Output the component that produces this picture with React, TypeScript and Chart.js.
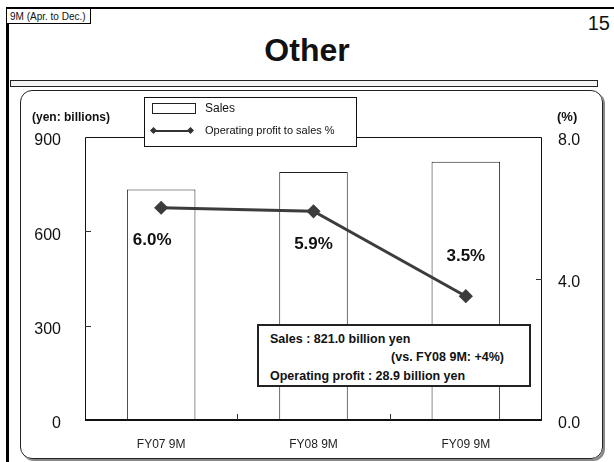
import React, { useEffect, useRef } from "react";
import { Chart, registerables } from "chart.js";

Chart.register(...registerables);

const categories = ["FY07 9M", "FY08 9M", "FY09 9M"];
const salesValues = [733, 789, 821];
const marginValues = [6.0, 5.9, 3.5];
const marginLabelSide = ["below", "below", "above"];
const leftAxisMax = 900;
const leftAxisStep = 300;
const rightAxisMax = 8;
const rightAxisStep = 4;

const FONT = "'Liberation Sans', Arial, sans-serif";

const framePlugin = {
  id: "framePlugin",
  afterDatasetsDraw(chart: any) {
    const { ctx, chartArea } = chart;
    const { left, right, top, bottom } = chartArea;
    ctx.save();
    ctx.strokeStyle = "#111";
    ctx.lineWidth = 1;
    ctx.beginPath();
    ctx.moveTo(left + 0.5, bottom);
    ctx.lineTo(left + 0.5, top + 0.5);
    ctx.lineTo(right - 0.5, top + 0.5);
    ctx.lineTo(right - 0.5, bottom);
    ctx.stroke();
    ctx.lineWidth = 2;
    ctx.beginPath();
    ctx.moveTo(left, bottom);
    ctx.lineTo(right, bottom);
    ctx.stroke();
    // inward ticks at category boundaries
    const xs = chart.scales.x;
    ctx.lineWidth = 1;
    ctx.strokeStyle = "#333";
    for (let i = 1; i < categories.length; i++) {
      const x = Math.round((xs.getPixelForValue(i - 1) + xs.getPixelForValue(i)) / 2) + 0.5;
      ctx.beginPath();
      ctx.moveTo(x, bottom);
      ctx.lineTo(x, bottom - 6);
      ctx.stroke();
    }
    // inward ticks on value axes
    const ys = chart.scales.y;
    for (let v = leftAxisStep; v < leftAxisMax; v += leftAxisStep) {
      const y = Math.round(ys.getPixelForValue(v)) + 0.5;
      ctx.beginPath();
      ctx.moveTo(left, y);
      ctx.lineTo(left + 6, y);
      ctx.stroke();
    }
    const y2 = chart.scales.y2;
    for (let v = rightAxisStep; v < rightAxisMax; v += rightAxisStep) {
      const y = Math.round(y2.getPixelForValue(v)) + 0.5;
      ctx.beginPath();
      ctx.moveTo(right, y);
      ctx.lineTo(right - 6, y);
      ctx.stroke();
    }
    // percent labels
    const meta = chart.getDatasetMeta(1);
    ctx.fillStyle = "#111";
    ctx.font = `bold 17px ${FONT}`;
    ctx.textAlign = "center";
    ctx.textBaseline = "middle";
    meta.data.forEach((pt: any, i: number) => {
      const dy = marginLabelSide[i] === "above" ? -40 : 33;
      ctx.fillText(marginValues[i].toFixed(1) + "%", pt.x - (i === 0 ? 9 : 0), pt.y + dy);
    });
    ctx.restore();
  },
};

function ChartCanvas() {
  const ref = useRef<HTMLCanvasElement>(null);
  useEffect(() => {
    if (!ref.current) return;
    const chart = new Chart(ref.current, {
      type: "bar",
      data: {
        labels: categories,
        datasets: [
          {
            type: "bar",
            label: "Sales",
            data: salesValues,
            yAxisID: "y",
            backgroundColor: "#ffffff",
            borderColor: "#222",
            borderWidth: 1,
            barPercentage: 0.45,
            categoryPercentage: 1,
            order: 2,
          },
          {
            type: "line",
            label: "Operating profit to sales %",
            data: marginValues,
            yAxisID: "y2",
            borderColor: "#3c3c3c",
            borderWidth: 3,
            pointStyle: "rectRot",
            pointRadius: 5,
            pointBackgroundColor: "#3c3c3c",
            pointBorderColor: "#3c3c3c",
            order: 1,
          } as any,
        ],
      },
      options: {
        responsive: false,
        animation: false,
        layout: { padding: { top: 137, left: 0, right: 0, bottom: 0 } },
        plugins: { legend: { display: false }, tooltip: { enabled: false } },
        scales: {
          x: {
            grid: { display: false, drawTicks: false },
            border: { display: false },
            ticks: { padding: 17, color: "#222", font: { family: FONT, size: 12 } },
            afterFit: (s: any) => { s.height = 42; },
          },
          y: {
            position: "left",
            min: 0,
            max: leftAxisMax,
            grid: { display: false, drawTicks: false },
            border: { display: false },
            ticks: { stepSize: leftAxisStep, padding: 24, labelOffset: 4, color: "#111", font: { family: FONT, size: 16 } },
            afterFit: (s: any) => { s.width = 85; },
          },
          y2: {
            position: "right",
            min: 0,
            max: rightAxisMax,
            grid: { display: false, drawTicks: false },
            border: { display: false },
            ticks: {
              stepSize: rightAxisStep,
              padding: 16,
              labelOffset: 4,
              color: "#111",
              font: { family: FONT, size: 16 },
              callback: (v: any) => Number(v).toFixed(1),
            },
            afterFit: (s: any) => { s.width = 72; },
          },
        },
      },
      plugins: [framePlugin],
    });
    return () => chart.destroy();
  }, []);
  return <canvas ref={ref} width={614} height={462} style={{ position: "absolute", left: 0, top: 0 }} />;
}

export default function App() {
  const abs = (s: React.CSSProperties): React.CSSProperties => ({ position: "absolute", ...s });
  return (
    <div style={{ position: "fixed", left: 0, top: 0, width: 614, height: 462, background: "#fff", overflow: "hidden", fontFamily: FONT, color: "#111" }}>
      {/* page frame */}
      <div style={abs({ left: 6, top: 8, width: 3, height: 460, background: "#000" })} />
      <div style={abs({ left: 6, top: 7, width: 610, height: 2, background: "#000" })} />
      <div style={abs({ left: 6, top: 8, width: 85, height: 16, border: "1px solid #000", background: "#fff", fontSize: 10, lineHeight: "16px", paddingLeft: 3, boxSizing: "border-box" })}>9M (Apr. to Dec.)</div>
      <div style={abs({ right: 4, top: 12, fontSize: 20 })}>15</div>
      <div style={abs({ left: 0, width: 614, top: 32, textAlign: "center", fontSize: 32, lineHeight: "36px", fontWeight: "bold" })}>Other</div>
      <div style={abs({ left: 10, top: 80, width: 588, height: 7, border: "1px solid #222", background: "#f4f4f4", boxSizing: "border-box" })} />
      {/* panel */}
      <div style={abs({ left: 20, top: 90, width: 583, height: 369, border: "1px solid #222", borderRadius: 12, boxShadow: "2px 2px 0 #888", boxSizing: "border-box" })} />
      <ChartCanvas />
      {/* axis titles */}
      <div style={abs({ left: 32, top: 110, fontSize: 12, fontWeight: "bold" })}>(yen: billions)</div>
      <div style={abs({ left: 557, top: 109, fontSize: 13, fontWeight: "bold" })}>(%)</div>
      {/* legend */}
      <div style={abs({ left: 144, top: 97, width: 213, height: 50, border: "1px solid #111", background: "#fff", boxSizing: "border-box" })}>
        <div style={abs({ left: 7, top: 5, width: 44, height: 11, border: "1px solid #222", boxSizing: "border-box" })} />
        <div style={abs({ left: 60, top: 3, fontSize: 12 })}>Sales</div>
        <div style={abs({ left: 8, top: 32, width: 38, height: 2, background: "#333" })} />
        <div style={abs({ left: 6, top: 30, width: 5, height: 5, background: "#333", transform: "rotate(45deg)" })} />
        <div style={abs({ left: 43, top: 30, width: 5, height: 5, background: "#333", transform: "rotate(45deg)" })} />
        <div style={abs({ left: 60, top: 26, fontSize: 11 })}>Operating profit to sales %</div>
      </div>
      {/* annotation */}
      <div style={abs({ left: 257, top: 324, width: 274, height: 63, border: "2px solid #222", background: "#fff", boxSizing: "border-box", fontSize: 12.5, fontWeight: "bold" })}>
        <div style={abs({ left: 11, top: 6 })}>Sales : 821.0 billion yen</div>
        <div style={abs({ right: 25, top: 24 })}>(vs. FY08 9M: +4%)</div>
        <div style={abs({ left: 11, top: 43 })}>Operating profit : 28.9 billion yen</div>
      </div>
    </div>
  );
}
